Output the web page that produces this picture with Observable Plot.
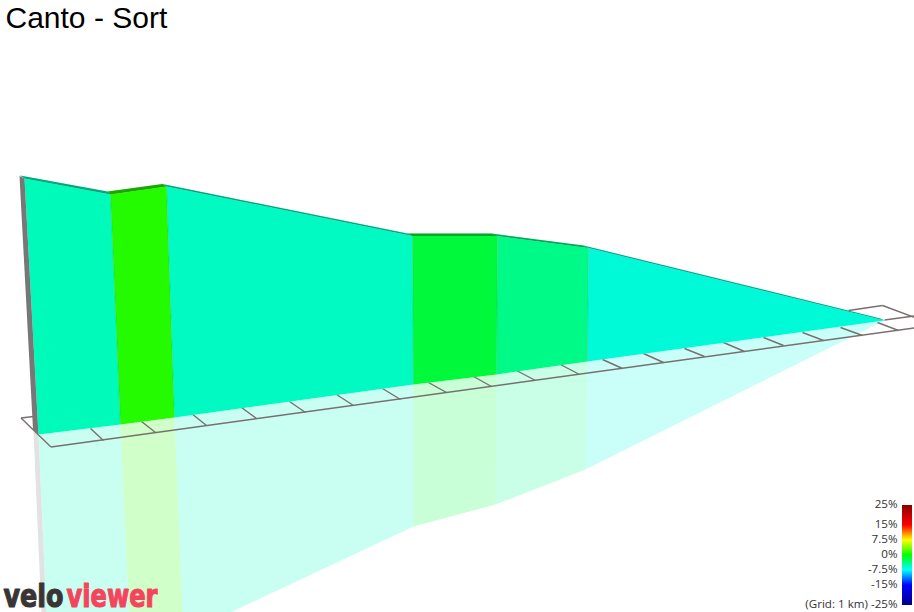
<!DOCTYPE html>
<html>
<head>
<meta charset="utf-8">
<script src="https://cdn.jsdelivr.net/npm/d3@7"></script>
<script src="https://cdn.jsdelivr.net/npm/@observablehq/plot@0.6"></script>
<style>
html,body{margin:0;padding:0;background:#fff;overflow:hidden}
#chart{position:relative;width:914px;height:612px}
svg{display:block}
</style>
</head>
<body>
<div id="chart"></div>
<script>
// Gradient of each section of the climb, percent
const grades = [-5.6, 1.1, -5.8, -1.8, -4.1, -6.5];

// Projected outline of the 3D profile (picture units)
const topX  = [24, 110, 166, 412, 497, 588, 884];
const topY  = [178, 194, 186, 235.5, 235.5, 247.5, 320];
const backX = [19.5, 107, 162, 407, 491, 583, 880];
const backY = [175, 191, 183.6, 233, 233, 245, 318];
const baseX = [38, 120, 174, 413, 496, 587, 884];
const baseY = [434, 424, 417, 384, 374, 361, 320];
const mirrorX = [48, 130, 183, 413, 495, 585, 884];
const mirrorY = [660, 642, 634, 526, 504, 469, 320];

// Start wall thickness (grey side strip) and its reflection
const sideX = [19, 24, 38, 32.5];
const sideY = [175.5, 178, 434, 429];
const sideMirrorX = [33, 38, 48, 43];
const sideMirrorY = [431, 434, 660, 660];

// 1 km floor grid
const tickStartX = [90, 141, 191, 241, 289, 336, 382, 428, 473, 516, 560, 602, 643, 684, 723, 763, 802, 840, 877];
const tickStartY = [428, 421, 413, 407, 401, 394, 388, 382, 376, 370, 364, 359, 353, 348, 342, 337, 332, 327, 322];
const tickEndX   = [103, 155, 206, 256, 305, 353, 400, 446, 491, 535, 579, 622, 663, 704, 744, 783, 823, 862, 898];
const tickEndY   = [440, 432, 425, 418, 412, 405, 399, 392, 386, 380, 374, 368, 362, 356, 351, 345, 340, 335, 330];
const frameX1 = [50.5, 20.5, 20.5, 848, 882, 884];
const frameY1 = [446.5, 417.5, 417.5, 310, 305, 319.5];
const frameX2 = [914, 50.5, 33, 882, 914, 914];
const frameY2 = [327.5, 446.5, 416, 305, 317, 315.5];

// Colour legend
const legendGrades = [25, 15, 7.5, 0, -7.5, -15, -25];
const legendLabels = ["25%", "15%", "7.5%", "0%", "-7.5%", "-15%", "(Grid: 1 km) -25%"];
const legendTextY  = [504, 524, 538.5, 554, 569, 584, 603.5];
const legendColors = ["#8b0000", "#ff0000", "#ffff00", "#00ff00", "#00ffff", "#0000ff", "#00008b"];

const title = "Canto - Sort";
const logoParts = ["velo", "viewer"];

// ---- build polygons from the arrays
const poly = (xa, ya, xb, yb) => grades.flatMap((g, i) => [
  {id: i, g, x: xa[i], y: ya[i]},
  {id: i, g, x: xa[i + 1], y: ya[i + 1]},
  {id: i, g, x: xb[i + 1], y: yb[i + 1]},
  {id: i, g, x: xb[i], y: yb[i]}
]);
const wall = poly(topX, topY, baseX, baseY);
const mirror = poly(baseX, baseY, mirrorX, mirrorY);
const ribbon = poly(backX, backY, topX, topY);
const side = sideX.map((x, i) => ({x, y: sideY[i]}));
const sideMirror = sideMirrorX.map((x, i) => ({x, y: sideMirrorY[i]}));
const ticks = tickStartX.map((x, i) => ({x1: x, y1: tickStartY[i], x2: tickEndX[i], y2: tickEndY[i]}));
const frame = frameX1.map((x, i) => ({x1: x, y1: frameY1[i], x2: frameX2[i], y2: frameY2[i]}));
const dividers = topX.slice(1, 6).map((x, i) => ({x1: x, y1: topY[i + 1], x2: baseX[i + 1], y2: baseY[i + 1]}));
const legendRows = legendLabels.map((label, i) => ({label, y: legendTextY[i]}));

// legend bar: 2 picture units per percent, centred on 0%
const barSteps = d3.range(-25, 25, 0.5);
const barY = g => 555 - 2 * g;

const gridStroke = "#77706f";
const polyOpts = {x: "x", y: "y", z: "id", curve: "linear-closed", strokeOpacity: 0};

const plot = Plot.plot({
  width: 914, height: 612,
  margin: 0,
  x: {domain: [0, 914], range: [0, 914], axis: null},
  y: {domain: [0, 612], range: [0, 612], axis: null},
  color: {type: "linear", domain: legendGrades.slice().reverse(), range: legendColors.slice().reverse(), interpolate: "rgb"},
  style: {background: "#fff"},
  marks: [
    Plot.line(mirror, {...polyOpts, fill: "g", fillOpacity: 0.21}),
    Plot.line(sideMirror, {x: "x", y: "y", curve: "linear-closed", fill: "#e2e2e2", stroke: "none"}),
    Plot.link(ticks, {x1: "x1", y1: "y1", x2: "x2", y2: "y2", stroke: gridStroke, strokeWidth: 1.4}),
    Plot.link(frame, {x1: "x1", y1: "y1", x2: "x2", y2: "y2", stroke: gridStroke, strokeWidth: 1.4}),
    Plot.line(wall, {...polyOpts, fill: "g"}),
    Plot.line(wall, {...polyOpts, fill: "#000", fillOpacity: 0.02}),
    Plot.line(side, {x: "x", y: "y", curve: "linear-closed", fill: "#777777", stroke: "none"}),
    Plot.line(ribbon, {...polyOpts, fill: "g"}),
    Plot.line(ribbon, {...polyOpts, fill: "#000", fillOpacity: 0.34}),
    Plot.link(dividers, {x1: "x1", y1: "y1", x2: "x2", y2: "y2", stroke: "#000", strokeOpacity: 0.1, strokeWidth: 1}),
    Plot.rect(barSteps, {x1: () => 902, x2: () => 912, y1: g => barY(g + 0.5), y2: g => barY(g), fill: g => g + 0.25}),
    Plot.text(legendRows, {x: () => 897, y: "y", text: "label", textAnchor: "end", fontFamily: "Open Sans", fontSize: 11.6, fill: "#333"}),
    Plot.text([logoParts[0]], {x: () => 3, y: () => 606.5, text: d => d, textAnchor: "start", lineAnchor: "bottom", fontFamily: "DejaVu Sans", fontWeight: 700, fontSize: 32, fill: "#3a3535", stroke: "#3a3535", strokeWidth: 1.2}),
    Plot.text([logoParts[1]], {x: () => 66, y: () => 606.5, text: d => d, textAnchor: "start", lineAnchor: "bottom", fontFamily: "DejaVu Sans", fontWeight: 700, fontSize: 32, fill: "#f5455c", stroke: "#f5455c", strokeWidth: 1.2}),
    Plot.text([title], {x: () => 5, y: () => 18, text: d => d, textAnchor: "start", fontFamily: "Liberation Sans", fontSize: 30, fill: "#000"})
  ]
});
document.getElementById("chart").appendChild(plot);
plot.querySelectorAll("text").forEach(t => {
  const len = t.textContent === logoParts[0] ? 60 : t.textContent === logoParts[1] ? 91 : null;
  if (len) { t.setAttribute("textLength", len); t.setAttribute("lengthAdjust", "spacingAndGlyphs"); }
});
</script>
</body>
</html>
